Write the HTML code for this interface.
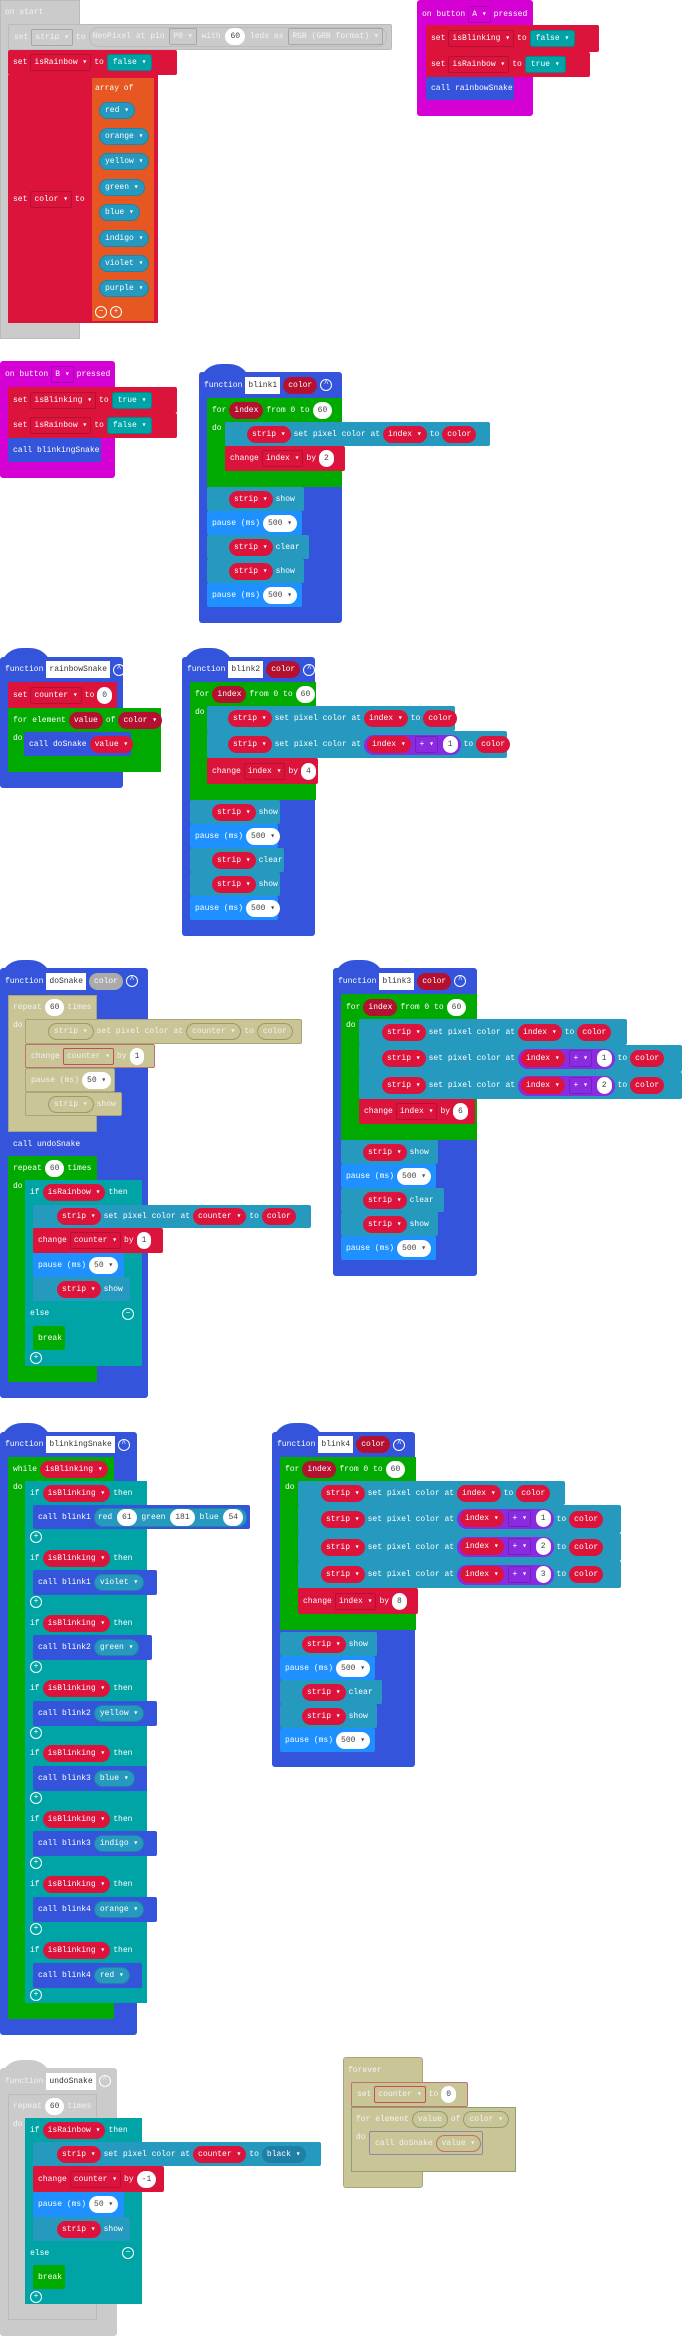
<!DOCTYPE html>
<html><head><meta charset="utf-8"><style>
*{box-sizing:border-box}
body{margin:0;width:682px;height:2336px;background:#fff;position:relative;overflow:hidden;font-family:"Liberation Mono",monospace;font-size:8px;color:#fff}
.B{position:absolute}
.R{position:absolute;display:flex;align-items:center;white-space:nowrap;gap:3px;padding-left:5px;border-radius:2px}
.gy{background:#cbcbcb}.rd{background:#dc143c}.tl{background:#00a4a6}.lb{background:#2699bf}.gr{background:#00aa00}
.fb{background:#3455db}.pb{background:#1e90ff}.mg{background:#d400d4}.or{background:#e65722}.kh{background:#c9c596}.pu{background:#8a2be2}
.p{display:inline-block;height:17px;line-height:17px;padding:0 5px;border-radius:9px}
.pr{background:#dc143c}.pd{background:#b4102f}.pw{background:#fff;color:#444}.pl{background:#2699bf;border:1px solid #1f85a8;line-height:15px}
.pt{background:#00a4a6;border-radius:3px;border:1px solid #008a8c;line-height:15px}
.pk{background:#c9c596;border:1px solid #9e9a64;line-height:15px}
.dd{display:inline-block;height:17px;line-height:15px;padding:0 3px;border:1px solid rgba(0,0,0,.18);border-radius:2px}
.nm{display:inline-block;background:#fff;color:#333;height:17px;line-height:17px;padding:0 3px}
.ic{display:inline-block;width:12px;height:12px;border:1.5px solid #fff;border-radius:50%;text-align:center;line-height:10px;font-size:8px}
.hat{position:absolute;width:52px;height:22px;border-radius:26px 26px 0 0}
.g{color:#f2f2f2}
</style></head><body>

<!-- on start -->
<div class="B gy" style="left:0;top:0;width:80px;height:339px;border:1px solid #bbb"></div>
<div class="R g" style="left:0;top:0;height:24px">on start</div>
<div class="R gy g" style="left:8px;top:24px;width:384px;height:26px;border:1px solid #bbb">set <span class="dd">strip ▾</span> to <span class="p" style="border:1px solid #bbb;height:20px;line-height:18px;padding:0 3px">NeoPixel at pin <span class="dd">P0 ▾</span> with <span class="p pw">60</span> leds as <span class="dd">RGB (GRB format) ▾</span></span></div>
<div class="R rd" style="left:8px;top:50px;width:169px;height:25px">set <span class="dd">isRainbow ▾</span> to <span class="p pt">false ▾</span></div>
<div class="B rd" style="left:8px;top:75px;width:150px;height:248px"></div>
<div class="R" style="left:8px;top:187px;height:24px">set <span class="dd">color ▾</span> to</div>
<div class="B or" style="left:92px;top:78px;width:62px;height:243px"></div>
<div class="R" style="left:90px;top:78px;height:20px">array of</div>
<div class="R" style="left:94px;top:100px;height:20px"><span class="p pl">red ▾</span></div>
<div class="R" style="left:94px;top:126px;height:20px"><span class="p pl">orange ▾</span></div>
<div class="R" style="left:94px;top:151px;height:20px"><span class="p pl">yellow ▾</span></div>
<div class="R" style="left:94px;top:177px;height:20px"><span class="p pl">green ▾</span></div>
<div class="R" style="left:94px;top:202px;height:20px"><span class="p pl">blue ▾</span></div>
<div class="R" style="left:94px;top:228px;height:20px"><span class="p pl">indigo ▾</span></div>
<div class="R" style="left:94px;top:253px;height:20px"><span class="p pl">violet ▾</span></div>
<div class="R" style="left:94px;top:278px;height:20px"><span class="p pl">purple ▾</span></div>
<div class="R" style="left:90px;top:303px;height:18px"><span class="ic">−</span><span class="ic">+</span></div>

<!-- on button A -->
<div class="B mg" style="left:417px;top:0;width:116px;height:116px;border-radius:3px"></div>
<div class="R" style="left:417px;top:2px;height:24px">on button <span class="dd">A ▾</span> pressed</div>
<div class="R rd" style="left:426px;top:25px;width:173px;height:27px">set <span class="dd">isBlinking ▾</span> to <span class="p pt">false ▾</span></div>
<div class="R rd" style="left:426px;top:52px;width:164px;height:25px">set <span class="dd">isRainbow ▾</span> to <span class="p pt">true ▾</span></div>
<div class="R fb" style="left:426px;top:77px;width:88px;height:23px">call rainbowSnake</div>

<!-- on button B -->
<div class="B mg" style="left:0;top:361px;width:115px;height:117px;border-radius:3px"></div>
<div class="R" style="left:0;top:362px;height:24px">on button <span class="dd">B ▾</span> pressed</div>
<div class="R rd" style="left:8px;top:387px;width:169px;height:26px">set <span class="dd">isBlinking ▾</span> to <span class="p pt">true ▾</span></div>
<div class="R rd" style="left:8px;top:413px;width:169px;height:25px">set <span class="dd">isRainbow ▾</span> to <span class="p pt">false ▾</span></div>
<div class="R fb" style="left:8px;top:438px;width:93px;height:24px">call blinkingSnake</div>

<!-- blink1 -->
<div class="hat fb" style="left:199px;top:364px"></div>
<div class="B fb" style="left:199px;top:372px;width:143px;height:251px;border-radius:3px"></div>
<div class="R" style="left:199px;top:372px;height:26px">function <span class="nm">blink1</span><span class="p pd">color</span><span class="ic">^</span></div>
<div class="B gr" style="left:207px;top:398px;width:135px;height:89px"></div>
<div class="R" style="left:207px;top:398px;height:24px">for <span class="p pd">index</span> from 0 to <span class="p pw">60</span></div>
<div class="R" style="left:207px;top:420px;height:16px">do</div>
<div class="R lb" style="left:225px;top:422px;width:265px;height:24px;padding-left:22px"><span class="p pr">strip ▾</span> set pixel color at <span class="p pr">index ▾</span> to <span class="p pr">color</span></div>
<div class="R rd" style="left:225px;top:446px;width:120px;height:25px">change <span class="dd">index ▾</span> by <span class="p pw">2</span></div>
<div class="R lb" style="left:207px;top:487px;width:97px;height:24px;padding-left:22px"><span class="p pr">strip ▾</span> show</div>
<div class="R pb" style="left:207px;top:511px;width:95px;height:24px">pause (ms) <span class="p pw">500 ▾</span></div>
<div class="R lb" style="left:207px;top:535px;width:102px;height:24px;padding-left:22px"><span class="p pr">strip ▾</span> clear</div>
<div class="R lb" style="left:207px;top:559px;width:97px;height:24px;padding-left:22px"><span class="p pr">strip ▾</span> show</div>
<div class="R pb" style="left:207px;top:583px;width:95px;height:24px">pause (ms) <span class="p pw">500 ▾</span></div>

<!-- rainbowSnake -->
<div class="hat fb" style="left:0;top:648px"></div>
<div class="B fb" style="left:0;top:657px;width:123px;height:131px;border-radius:3px"></div>
<div class="R" style="left:0;top:657px;height:25px">function <span class="nm">rainbowSnake</span><span class="ic">^</span></div>
<div class="R rd" style="left:8px;top:682px;width:109px;height:26px">set <span class="dd">counter ▾</span> to <span class="p pw">0</span></div>
<div class="B gr" style="left:8px;top:708px;width:153px;height:64px"></div>
<div class="R" style="left:8px;top:708px;height:24px">for element <span class="p pd">value</span> of <span class="p pd">color ▾</span></div>
<div class="R" style="left:8px;top:730px;height:16px">do</div>
<div class="R fb" style="left:24px;top:732px;width:107px;height:24px">call doSnake <span class="p pr">value ▾</span></div>

<!-- blink2 -->
<div class="hat fb" style="left:182px;top:648px"></div>
<div class="B fb" style="left:182px;top:657px;width:133px;height:279px;border-radius:3px"></div>
<div class="R" style="left:182px;top:657px;height:25px">function <span class="nm">blink2</span><span class="p pd">color</span><span class="ic">^</span></div>
<div class="B gr" style="left:190px;top:682px;width:126px;height:118px"></div>
<div class="R" style="left:190px;top:682px;height:24px">for <span class="p pd">index</span> from 0 to <span class="p pw">60</span></div>
<div class="R" style="left:190px;top:704px;height:16px">do</div>
<div class="R lb" style="left:207px;top:706px;width:248px;height:25px;padding-left:21px"><span class="p pr">strip ▾</span> set pixel color at <span class="p pr">index ▾</span> to <span class="p pr">color</span></div>
<div class="R lb" style="left:207px;top:731px;width:300px;height:27px;padding-left:21px"><span class="p pr">strip ▾</span> set pixel color at <span class="p pu" style="padding:0 3px;height:20px;line-height:20px;border-radius:10px"><span class="p pr">index ▾</span> <span class="dd">+ ▾</span> <span class="p pw">1</span></span> to <span class="p pr">color</span></div>
<div class="R rd" style="left:207px;top:758px;width:111px;height:26px">change <span class="dd">index ▾</span> by <span class="p pw">4</span></div>
<div class="R lb" style="left:190px;top:800px;width:90px;height:24px;padding-left:22px"><span class="p pr">strip ▾</span> show</div>
<div class="R pb" style="left:190px;top:824px;width:88px;height:24px">pause (ms) <span class="p pw">500 ▾</span></div>
<div class="R lb" style="left:190px;top:848px;width:94px;height:24px;padding-left:22px"><span class="p pr">strip ▾</span> clear</div>
<div class="R lb" style="left:190px;top:872px;width:90px;height:24px;padding-left:22px"><span class="p pr">strip ▾</span> show</div>
<div class="R pb" style="left:190px;top:896px;width:88px;height:24px">pause (ms) <span class="p pw">500 ▾</span></div>

<!-- doSnake -->
<div class="hat fb" style="left:0;top:960px"></div>
<div class="B fb" style="left:0;top:968px;width:148px;height:430px;border-radius:3px"></div>
<div class="R" style="left:0;top:968px;height:26px">function <span class="nm">doSnake</span><span class="p" style="background:#aaa">color</span><span class="ic">^</span></div>
<div class="B kh" style="left:8px;top:995px;width:89px;height:137px;border:1px solid #aaa67a"></div>
<div class="R g" style="left:8px;top:995px;height:24px">repeat <span class="p pw">60</span> times</div>
<div class="R g" style="left:8px;top:1017px;height:16px">do</div>
<div class="R kh g" style="left:25px;top:1019px;width:277px;height:25px;padding-left:22px;border:1px solid #aaa67a"><span class="p pk">strip ▾</span> set pixel color at <span class="p pk">counter ▾</span> to <span class="p pk">color</span></div>
<div class="R kh g" style="left:25px;top:1044px;width:130px;height:24px;border:1px solid #c07070">change <span class="dd" style="border-color:#c05050">counter ▾</span> by <span class="p pw">1</span></div>
<div class="R kh g" style="left:25px;top:1068px;width:90px;height:24px;border:1px solid #aaa67a">pause (ms) <span class="p pw">50 ▾</span></div>
<div class="R kh g" style="left:25px;top:1092px;width:97px;height:24px;padding-left:22px;border:1px solid #aaa67a"><span class="p pk">strip ▾</span> show</div>
<div class="R fb" style="left:8px;top:1132px;width:74px;height:24px">call undoSnake</div>
<div class="B gr" style="left:8px;top:1156px;width:89px;height:226px"></div>
<div class="R" style="left:8px;top:1156px;height:24px">repeat <span class="p pw">60</span> times</div>
<div class="R" style="left:8px;top:1178px;height:16px">do</div>
<div class="B tl" style="left:25px;top:1180px;width:117px;height:186px"></div>
<div class="R" style="left:25px;top:1180px;height:24px">if <span class="p pr">isRainbow ▾</span> then</div>
<div class="R lb" style="left:33px;top:1205px;width:278px;height:23px;padding-left:24px"><span class="p pr">strip ▾</span> set pixel color at <span class="p pr">counter ▾</span> to <span class="p pr">color</span></div>
<div class="R rd" style="left:33px;top:1228px;width:130px;height:25px">change <span class="dd">counter ▾</span> by <span class="p pw">1</span></div>
<div class="R pb" style="left:33px;top:1253px;width:91px;height:24px">pause (ms) <span class="p pw">50 ▾</span></div>
<div class="R lb" style="left:33px;top:1277px;width:97px;height:24px;padding-left:24px"><span class="p pr">strip ▾</span> show</div>
<div class="R" style="left:25px;top:1301px;width:117px;height:25px;justify-content:space-between;padding-right:8px">else <span class="ic">−</span></div>
<div class="R gr" style="left:33px;top:1326px;width:32px;height:24px">break</div>
<div class="R" style="left:25px;top:1350px;height:16px"><span class="ic">+</span></div>

<!-- blink3 -->
<div class="hat fb" style="left:333px;top:960px"></div>
<div class="B fb" style="left:333px;top:968px;width:144px;height:308px;border-radius:3px"></div>
<div class="R" style="left:333px;top:968px;height:26px">function <span class="nm">blink3</span><span class="p pd">color</span><span class="ic">^</span></div>
<div class="B gr" style="left:341px;top:994px;width:136px;height:146px"></div>
<div class="R" style="left:341px;top:995px;height:24px">for <span class="p pd">index</span> from 0 to <span class="p pw">60</span></div>
<div class="R" style="left:341px;top:1017px;height:16px">do</div>
<div class="R lb" style="left:359px;top:1019px;width:268px;height:26px;padding-left:23px"><span class="p pr">strip ▾</span> set pixel color at <span class="p pr">index ▾</span> to <span class="p pr">color</span></div>
<div class="R lb" style="left:359px;top:1045px;width:323px;height:27px;padding-left:23px"><span class="p pr">strip ▾</span> set pixel color at <span class="p pu" style="padding:0 3px;height:20px;line-height:20px;border-radius:10px"><span class="p pr">index ▾</span> <span class="dd">+ ▾</span> <span class="p pw">1</span></span> to <span class="p pr">color</span></div>
<div class="R lb" style="left:359px;top:1072px;width:323px;height:27px;padding-left:23px"><span class="p pr">strip ▾</span> set pixel color at <span class="p pu" style="padding:0 3px;height:20px;line-height:20px;border-radius:10px"><span class="p pr">index ▾</span> <span class="dd">+ ▾</span> <span class="p pw">2</span></span> to <span class="p pr">color</span></div>
<div class="R rd" style="left:359px;top:1099px;width:116px;height:25px">change <span class="dd">index ▾</span> by <span class="p pw">6</span></div>
<div class="R lb" style="left:341px;top:1140px;width:97px;height:24px;padding-left:22px"><span class="p pr">strip ▾</span> show</div>
<div class="R pb" style="left:341px;top:1164px;width:95px;height:24px">pause (ms) <span class="p pw">500 ▾</span></div>
<div class="R lb" style="left:341px;top:1188px;width:103px;height:24px;padding-left:22px"><span class="p pr">strip ▾</span> clear</div>
<div class="R lb" style="left:341px;top:1212px;width:97px;height:24px;padding-left:22px"><span class="p pr">strip ▾</span> show</div>
<div class="R pb" style="left:341px;top:1236px;width:95px;height:24px">pause (ms) <span class="p pw">500 ▾</span></div>

<!-- blinkingSnake -->
<div class="hat fb" style="left:0;top:1423px"></div>
<div class="B fb" style="left:0;top:1432px;width:137px;height:603px;border-radius:3px"></div>
<div class="R" style="left:0;top:1432px;height:25px">function <span class="nm">blinkingSnake</span><span class="ic">^</span></div>
<div class="B gr" style="left:8px;top:1457px;width:106px;height:562px"></div>
<div class="R" style="left:8px;top:1457px;height:24px">while <span class="p pr">isBlinking ▾</span></div>
<div class="R" style="left:8px;top:1479px;height:16px">do</div>
<div class="B tl" style="left:25px;top:1481px;width:122px;height:522px"></div>

<div class="R" style="left:25px;top:1481px;height:24px">if <span class="p pr">isBlinking ▾</span> then</div>
<div class="R fb" style="left:33px;top:1505px;width:217px;height:24px">call blink1 <span class="p pl" style="padding:0 3px;height:19px;line-height:17px">red <span class="p pw">61</span> green <span class="p pw">181</span> blue <span class="p pw">54</span></span></div>
<div class="R" style="left:25px;top:1529px;height:16px"><span class="ic">+</span></div>

<div class="R" style="left:25px;top:1546px;height:24px">if <span class="p pr">isBlinking ▾</span> then</div>
<div class="R fb" style="left:33px;top:1570px;width:124px;height:25px">call blink1 <span class="p pl">violet ▾</span></div>
<div class="R" style="left:25px;top:1594px;height:16px"><span class="ic">+</span></div>

<div class="R" style="left:25px;top:1611px;height:24px">if <span class="p pr">isBlinking ▾</span> then</div>
<div class="R fb" style="left:33px;top:1635px;width:119px;height:25px">call blink2 <span class="p pl">green ▾</span></div>
<div class="R" style="left:25px;top:1659px;height:16px"><span class="ic">+</span></div>

<div class="R" style="left:25px;top:1676px;height:24px">if <span class="p pr">isBlinking ▾</span> then</div>
<div class="R fb" style="left:33px;top:1701px;width:124px;height:25px">call blink2 <span class="p pl">yellow ▾</span></div>
<div class="R" style="left:25px;top:1725px;height:16px"><span class="ic">+</span></div>

<div class="R" style="left:25px;top:1741px;height:24px">if <span class="p pr">isBlinking ▾</span> then</div>
<div class="R fb" style="left:33px;top:1766px;width:114px;height:25px">call blink3 <span class="p pl">blue ▾</span></div>
<div class="R" style="left:25px;top:1790px;height:16px"><span class="ic">+</span></div>

<div class="R" style="left:25px;top:1807px;height:24px">if <span class="p pr">isBlinking ▾</span> then</div>
<div class="R fb" style="left:33px;top:1831px;width:124px;height:25px">call blink3 <span class="p pl">indigo ▾</span></div>
<div class="R" style="left:25px;top:1855px;height:16px"><span class="ic">+</span></div>

<div class="R" style="left:25px;top:1872px;height:24px">if <span class="p pr">isBlinking ▾</span> then</div>
<div class="R fb" style="left:33px;top:1897px;width:124px;height:25px">call blink4 <span class="p pl">orange ▾</span></div>
<div class="R" style="left:25px;top:1921px;height:16px"><span class="ic">+</span></div>

<div class="R" style="left:25px;top:1938px;height:24px">if <span class="p pr">isBlinking ▾</span> then</div>
<div class="R fb" style="left:33px;top:1963px;width:109px;height:25px">call blink4 <span class="p pl">red ▾</span></div>
<div class="R" style="left:25px;top:1987px;height:16px"><span class="ic">+</span></div>

<!-- blink4 -->
<div class="hat fb" style="left:272px;top:1423px"></div>
<div class="B fb" style="left:272px;top:1432px;width:143px;height:335px;border-radius:3px"></div>
<div class="R" style="left:272px;top:1432px;height:25px">function <span class="nm">blink4</span><span class="p pd">color</span><span class="ic">^</span></div>
<div class="B gr" style="left:280px;top:1457px;width:136px;height:173px"></div>
<div class="R" style="left:280px;top:1457px;height:24px">for <span class="p pd">index</span> from 0 to <span class="p pw">60</span></div>
<div class="R" style="left:280px;top:1479px;height:16px">do</div>
<div class="R lb" style="left:298px;top:1481px;width:267px;height:24px;padding-left:23px"><span class="p pr">strip ▾</span> set pixel color at <span class="p pr">index ▾</span> to <span class="p pr">color</span></div>
<div class="R lb" style="left:298px;top:1505px;width:323px;height:28px;padding-left:23px"><span class="p pr">strip ▾</span> set pixel color at <span class="p pu" style="padding:0 3px;height:20px;line-height:20px;border-radius:10px"><span class="p pr">index ▾</span> <span class="dd">+ ▾</span> <span class="p pw">1</span></span> to <span class="p pr">color</span></div>
<div class="R lb" style="left:298px;top:1533px;width:323px;height:28px;padding-left:23px"><span class="p pr">strip ▾</span> set pixel color at <span class="p pu" style="padding:0 3px;height:20px;line-height:20px;border-radius:10px"><span class="p pr">index ▾</span> <span class="dd">+ ▾</span> <span class="p pw">2</span></span> to <span class="p pr">color</span></div>
<div class="R lb" style="left:298px;top:1561px;width:323px;height:27px;padding-left:23px"><span class="p pr">strip ▾</span> set pixel color at <span class="p pu" style="padding:0 3px;height:20px;line-height:20px;border-radius:10px"><span class="p pr">index ▾</span> <span class="dd">+ ▾</span> <span class="p pw">3</span></span> to <span class="p pr">color</span></div>
<div class="R rd" style="left:298px;top:1588px;width:120px;height:26px">change <span class="dd">index ▾</span> by <span class="p pw">8</span></div>
<div class="R lb" style="left:280px;top:1632px;width:97px;height:24px;padding-left:22px"><span class="p pr">strip ▾</span> show</div>
<div class="R pb" style="left:280px;top:1656px;width:95px;height:24px">pause (ms) <span class="p pw">500 ▾</span></div>
<div class="R lb" style="left:280px;top:1680px;width:102px;height:24px;padding-left:22px"><span class="p pr">strip ▾</span> clear</div>
<div class="R lb" style="left:280px;top:1704px;width:97px;height:24px;padding-left:22px"><span class="p pr">strip ▾</span> show</div>
<div class="R pb" style="left:280px;top:1728px;width:95px;height:24px">pause (ms) <span class="p pw">500 ▾</span></div>

<!-- undoSnake -->
<div class="hat gy" style="left:0;top:2060px"></div>
<div class="B gy" style="left:0;top:2068px;width:117px;height:268px;border-radius:3px"></div>
<div class="R g" style="left:0;top:2068px;height:26px">function <span class="nm">undoSnake</span><span class="ic">^</span></div>
<div class="B gy" style="left:8px;top:2094px;width:89px;height:226px;border:1px solid #bbb"></div>
<div class="R g" style="left:8px;top:2094px;height:24px">repeat <span class="p pw">60</span> times</div>
<div class="R g" style="left:8px;top:2116px;height:16px">do</div>
<div class="B tl" style="left:25px;top:2118px;width:117px;height:186px"></div>
<div class="R" style="left:25px;top:2118px;height:24px">if <span class="p pr">isRainbow ▾</span> then</div>
<div class="R lb" style="left:33px;top:2142px;width:288px;height:24px;padding-left:24px"><span class="p pr">strip ▾</span> set pixel color at <span class="p pr">counter ▾</span> to <span class="p" style="background:#1f7fa6">black ▾</span></div>
<div class="R rd" style="left:33px;top:2166px;width:131px;height:26px">change <span class="dd">counter ▾</span> by <span class="p pw">-1</span></div>
<div class="R pb" style="left:33px;top:2192px;width:91px;height:25px">pause (ms) <span class="p pw">50 ▾</span></div>
<div class="R lb" style="left:33px;top:2217px;width:97px;height:24px;padding-left:24px"><span class="p pr">strip ▾</span> show</div>
<div class="R" style="left:25px;top:2241px;width:117px;height:24px;justify-content:space-between;padding-right:8px">else <span class="ic">−</span></div>
<div class="R gr" style="left:33px;top:2265px;width:32px;height:24px">break</div>
<div class="R" style="left:25px;top:2289px;height:16px"><span class="ic">+</span></div>

<!-- forever -->
<div class="B kh" style="left:343px;top:2057px;width:80px;height:131px;border:1px solid #a9a57a;border-radius:3px"></div>
<div class="R g" style="left:343px;top:2058px;height:24px">forever</div>
<div class="R kh g" style="left:351px;top:2082px;width:117px;height:25px;border:1px solid #c07070">set <span class="dd" style="border-color:#c05050">counter ▾</span> to <span class="p pw">0</span></div>
<div class="B kh" style="left:351px;top:2107px;width:165px;height:65px;border:1px solid #8ca070"></div>
<div class="R g" style="left:351px;top:2107px;height:24px">for element <span class="p pk" style="border-color:#8ca070">value</span> of <span class="p pk" style="border-color:#8ca070">color ▾</span></div>
<div class="R g" style="left:351px;top:2129px;height:16px">do</div>
<div class="R kh g" style="left:369px;top:2131px;width:114px;height:24px;border:1px solid #8a8aa8">call doSnake <span class="p pk" style="border-color:#c07070">value ▾</span></div>

</body></html>
